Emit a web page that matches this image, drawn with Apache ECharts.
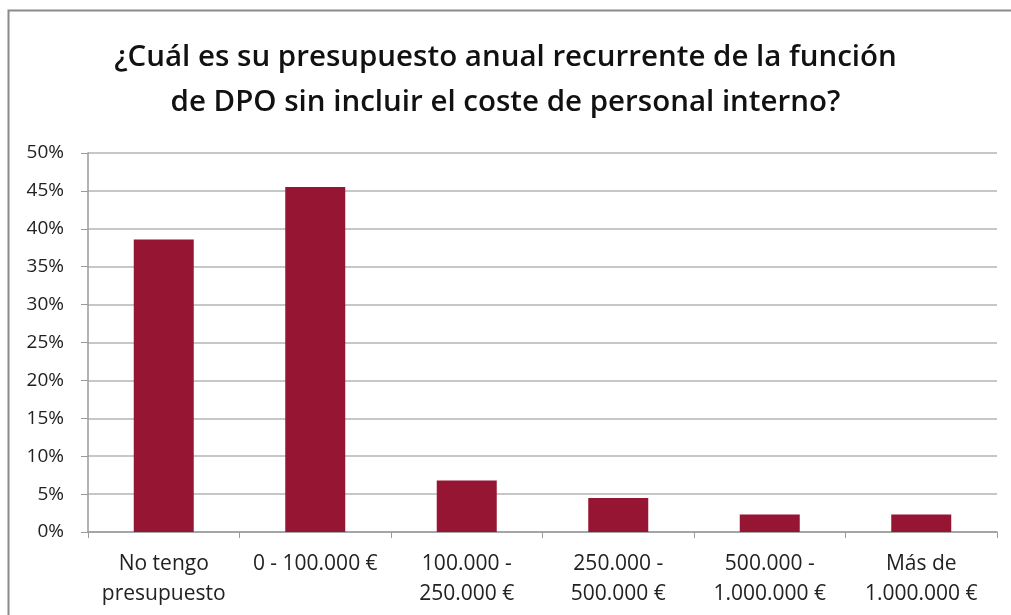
<!DOCTYPE html>
<html>
<head>
<meta charset="utf-8">
<script src="https://cdn.jsdelivr.net/npm/echarts@6/dist/echarts.min.js"></script>
<style>
  html, body { margin: 0; padding: 0; background: #fff; overflow: hidden; }
  #chart { width: 1011px; height: 615px; }
</style>
</head>
<body>
<div id="chart"></div>
<script>
  // categorías del eje x
  const categories = [
    'No tengo\npresupuesto',
    '0 - 100.000 €',
    '100.000 -\n250.000 €',
    '250.000 -\n500.000 €',
    '500.000 -\n1.000.000 €',
    'Más de\n1.000.000 €'
  ]
  // porcentajes
  const values = [38.6, 45.5, 6.8, 4.5, 2.3, 2.3]
  const yTicks = [0, 5, 10, 15, 20, 25, 30, 35, 40, 45, 50]

  const chart = echarts.init(document.getElementById('chart'))
  const font = '"Open Sans", "Noto Sans", sans-serif'

  const option = {
    animation: false,
    backgroundColor: '#fff',
    title: {
      text: '¿Cuál es su presupuesto anual recurrente de la función\nde DPO sin incluir el coste de personal interno?',
      left: 'center',
      top: 30,
      textStyle: {
        fontFamily: font,
        fontSize: 29.5,
        fontWeight: 600,
        color: '#111',
        lineHeight: 45
      }
    },
    // marco gris (solo lados superior e izquierdo visibles)
    graphic: [
      {
        type: 'polyline',
        shape: { points: [[8.5, 615], [8.5, 10.5], [1011, 10.5]] },
        style: { fill: 'none', stroke: '#8a8a8a', lineWidth: 2 },
        silent: true
      }
    ],
    grid: {
      left: 88,
      right: 14,
      top: 153,
      bottom: 83
    },
    xAxis: {
      type: 'category',
      data: categories,
      axisLine: { lineStyle: { color: '#9a9a9a', width: 1.5 } },
      axisTick: { show: true, length: 6, lineStyle: { color: '#9a9a9a' } },
      axisLabel: {
        fontFamily: font,
        fontSize: 21,
        color: '#222',
        lineHeight: 30,
        margin: 17,
        interval: 0
      }
    },
    yAxis: {
      type: 'value',
      min: yTicks[0],
      max: yTicks[yTicks.length - 1],
      interval: 5,
      axisLine: { show: true, lineStyle: { color: '#9a9a9a', width: 1.5 } },
      axisTick: { show: true, length: 7, lineStyle: { color: '#9a9a9a' } },
      splitLine: { lineStyle: { color: '#b5b5b5', width: 1.5 } },
      axisLabel: {
        formatter: '{value}%',
        fontFamily: font,
        fontSize: 19,
        color: '#222',
        margin: 24
      }
    },
    series: [
      {
        type: 'bar',
        data: values,
        barWidth: 60,
        itemStyle: { color: '#961533' }
      }
    ]
  }

  chart.setOption(option)
</script>
</body>
</html>
